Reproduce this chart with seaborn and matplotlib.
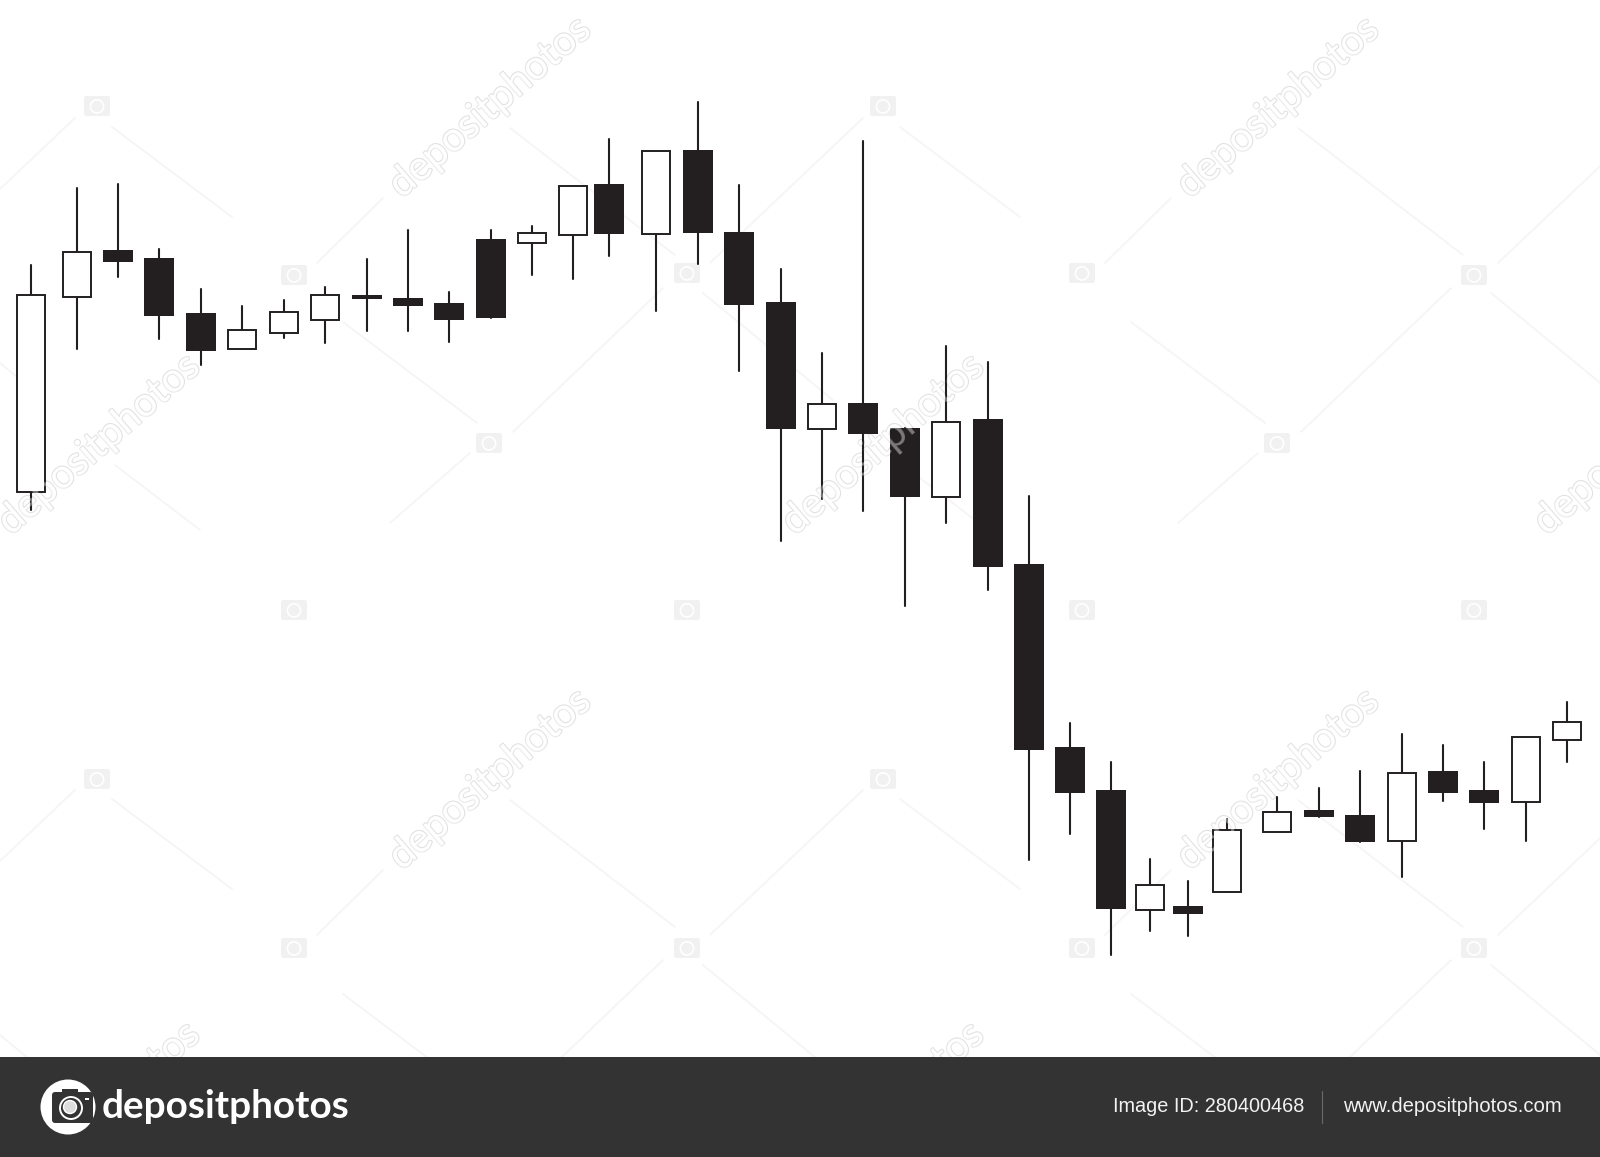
import matplotlib
matplotlib.use("Agg")
import matplotlib.pyplot as plt
import matplotlib.patheffects as pe
from matplotlib.patches import Rectangle, Circle, FancyBboxPatch
import pandas as pd
import seaborn as sns

# Session positions (irregular, as in the picture)
sessions = [31, 77, 118, 159, 201, 242, 284, 325, 367, 408, 449, 491, 532, 573, 609, 656, 698, 739, 781,
            822, 863, 905, 946, 988, 1029, 1070, 1111, 1150, 1188, 1227, 1277, 1319, 1360, 1402, 1443, 1484, 1526, 1567]
highs = [892, 969, 973, 908, 868, 851, 857, 870, 898, 927, 865, 927, 931, 971, 1018, 1006, 1055, 972, 888,
         804, 1016, 729, 811, 795, 661, 434, 395, 298, 276, 338, 360, 369, 386, 423, 412, 395, 420, 455]
lows = [647, 808, 880, 818, 792, 808, 819, 814, 826, 826, 815, 839, 882, 878, 901, 846, 893, 786, 616,
        658, 646, 551, 634, 567, 297, 323, 202, 226, 221, 265, 325, 340, 315, 280, 356, 328, 316, 395]
body_tops = [862, 905, 907, 899, 844, 827, 845, 862, 862, 859, 854, 918, 924, 971, 973, 1006, 1007, 925, 855,
             753, 754, 729, 735, 738, 593, 410, 367, 272, 251, 327, 345, 347, 342, 384, 386, 367, 420, 435]
body_bottoms = [665, 860, 895, 841, 806, 808, 824, 837, 858, 851, 837, 839, 914, 922, 923, 923, 924, 852, 728,
                728, 723, 660, 660, 590, 407, 364, 248, 247, 243, 265, 325, 340, 315, 316, 364, 354, 355, 417]
rising = [1, 1, 0, 0, 0, 1, 1, 1, 0, 0, 0, 0, 1, 1, 0, 1, 0, 0, 0,
          1, 0, 0, 1, 0, 0, 0, 0, 1, 0, 1, 1, 0, 0, 1, 0, 0, 1, 1]

# Decoration positions, in picture pixels from the top-left corner
watermark_centres = [(490, 107), (1278, 107), (99, 444), (883, 444), (1635, 444),
                     (490, 779), (1278, 779), (99, 1112), (883, 1112)]
camera_centres = [(97, 106), (883, 106), (294, 275), (687, 273), (1082, 273), (1474, 275), (489, 443), (1277, 443),
                  (294, 610), (687, 610), (1082, 610), (1474, 610), (97, 779), (883, 779),
                  (294, 948), (687, 948), (1082, 948), (1474, 948)]
hairlines = [((900, 127), (1020, 217)), ((510, 128), (675, 255)), ((703, 293), (833, 400)),
             ((513, 432), (663, 288)), ((710, 263), (863, 118)), ((317, 263), (383, 198)),
             ((343, 322), (477, 423)), ((115, 465), (200, 530)), ((390, 523), (470, 453))]

INK = "#231f20"
BAND = "#333333"
H = 1157

sns.set_theme(style="white")
fig = plt.figure(figsize=(16, 11.57), dpi=100, facecolor="white")
ax = fig.add_axes([0, 0, 1, 1])
ax.set_xlim(0, 1600)
ax.set_ylim(0, H)
ax.axis("off")

# Faint watermark hairlines, repeated over the picture
for (x0, y0), (x1, y1) in hairlines:
    for dx in (-788, 0, 788):
        for dy in (-672, 0, 672):
            ax.plot([x0 + dx, x1 + dx], [H - (y0 + dy), H - (y1 + dy)], color="#f5f5f5", lw=1.3, zorder=0.5)
ax.set_xlim(0, 1600)
ax.set_ylim(0, H)

# Wicks
wicks = pd.DataFrame({
    "session": sessions + sessions,
    "price": highs + lows,
    "candle": list(range(len(sessions))) * 2,
})
sns.lineplot(data=wicks, x="session", y="price", units="candle", estimator=None, sort=False,
             color=INK, linewidth=1.5, legend=False, ax=ax, zorder=2)
ax.axis("off")

# Bodies
for x, top, bot, up in zip(sessions, body_tops, body_bottoms, rising):
    if up:
        ax.bar(x, top - bot, bottom=bot, width=28.4, facecolor="white", edgecolor=INK, linewidth=1.4, zorder=3)
    else:
        ax.bar(x, top - bot, bottom=bot, width=30.7, facecolor=INK, edgecolor="none", linewidth=0, zorder=3)


def camera(cx, cy, w, h, body, hole, z):
    ax.add_patch(FancyBboxPatch((cx - w / 2, cy - h / 2), w, h, boxstyle=f"round,pad=0,rounding_size={h * 0.12}",
                                fc=body, ec="none", zorder=z))
    ax.add_patch(Circle((cx, cy - h * 0.02), h * 0.33, fc="none", ec=hole, lw=1.2, zorder=z + 0.1))


# Watermark: outlined text under the candles, a pale veil of it over them
for cx, cy in watermark_centres:
    ax.text(cx, H - cy, "depositphotos", rotation=41, rotation_mode="anchor", ha="center", va="center",
            family="Lato", fontsize=29, color="white", zorder=1.5, clip_on=True,
            path_effects=[pe.withStroke(linewidth=1.6, foreground="#e2e2e2")])
    ax.text(cx, H - cy, "depositphotos", rotation=41, rotation_mode="anchor", ha="center", va="center",
            family="Lato", fontsize=29, color="white", alpha=0.4, zorder=4, clip_on=True)
for cx, cy in camera_centres:
    camera(cx, H - cy, 26, 20, "#f1f1f1", "white", 1)

# Footer band
ax.add_patch(Rectangle((0, 0), 1600, 100, fc=BAND, ec="none", zorder=6))
ax.add_patch(Circle((68, 50), 27.5, fc="white", ec="none", zorder=7))
ax.add_patch(FancyBboxPatch((52, 34), 41, 31, boxstyle="round,pad=0,rounding_size=3", fc=BAND, ec="none", zorder=8))
ax.add_patch(Rectangle((62, 62), 16, 6, fc=BAND, ec="none", zorder=8))
ax.add_patch(Circle((71, 49), 11, fc="none", ec="white", lw=1.4, zorder=9))
ax.add_patch(Circle((70, 50), 6.5, fc="#dddddd", ec="white", lw=1.0, zorder=9))
ax.add_patch(Rectangle((85, 57), 4, 2.5, fc="white", ec="none", zorder=9))
ax.text(102, 50, "depositphotos", family="Lato", weight="bold", fontsize=27.9, color="white",
        ha="left", va="center", zorder=8)
ax.text(1113, 50, "Image ID: 280400468", family="Liberation Sans", fontsize=14.3, color="#f2f2f2",
        ha="left", va="center", zorder=8)
ax.plot([1322, 1322], [34, 66], color="#6a6a6a", lw=0.8, zorder=8)
ax.text(1343, 50, "www.depositphotos.com", family="Liberation Sans", fontsize=14.6, color="#f2f2f2",
        ha="left", va="center", zorder=8)

fig.savefig("out.png", dpi=100, facecolor="white")
